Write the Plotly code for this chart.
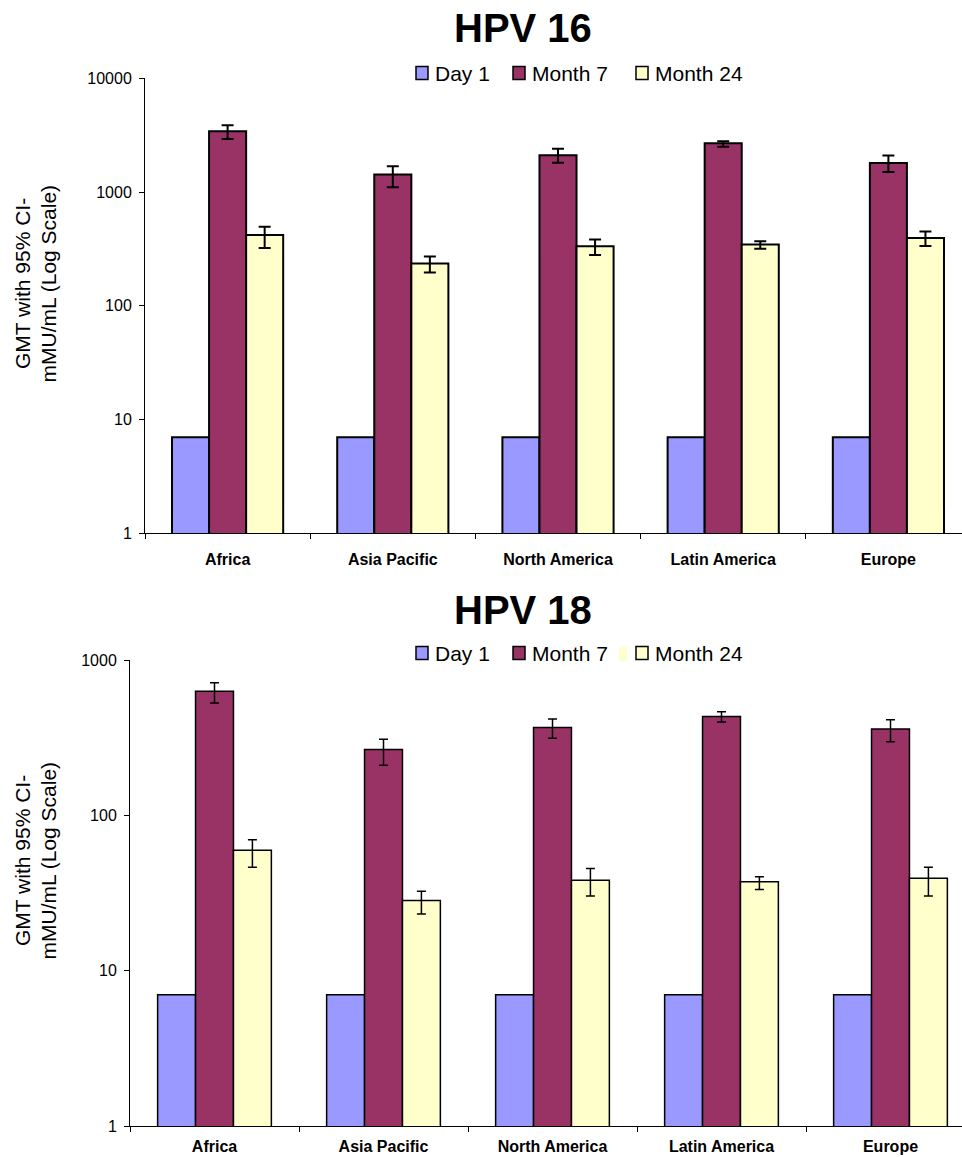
import plotly.graph_objects as go

regions = ["Africa", "Asia Pacific", "North America", "Latin America", "Europe"]
series_names = ["Day 1", "Month 7", "Month 24"]
y_ticks = [1, 10, 100, 1000, 10000]
y_title_lines = ["GMT with 95% CI-", "mMU/mL (Log Scale)"]

# HPV 16
hpv16_day1 = [7, 7, 7, 7, 7]
hpv16_m7 = [3430, 1430, 2110, 2690, 1800]
hpv16_m7_hi = [3870, 1690, 2400, 2800, 2100]
hpv16_m7_lo = [2930, 1100, 1810, 2500, 1500]
hpv16_m24 = [420, 235, 334, 345, 395]
hpv16_m24_hi = [496, 271, 382, 369, 449]
hpv16_m24_lo = [323, 196, 280, 318, 336]

# HPV 18
hpv18_day1 = [7, 7, 7, 7, 7]
hpv18_m7 = [629, 265, 367, 432, 360]
hpv18_m7_hi = [714, 309, 417, 465, 413]
hpv18_m7_lo = [529, 210, 314, 399, 298]
hpv18_m24 = [59.5, 28.3, 38.2, 37.3, 39.3]
hpv18_m24_hi = [69.7, 32.5, 45.4, 40.3, 46.3]
hpv18_m24_lo = [46.3, 23.2, 30.3, 33.3, 30.3]

colors = ["#9999FF", "#993366", "#FFFFCC"]
W, H = 962, 1157
FONT = "Liberation Sans, Arial, sans-serif"

fig = go.Figure()


def add_panel(day1, m7, m7hi, m7lo, m24, m24hi, m24lo, xa, ya, lw, ew, cw):
    vals = [day1, m7, m24]
    his = [None, m7hi, m24hi]
    los = [None, m7lo, m24lo]
    for i, name in enumerate(series_names):
        err = None
        if his[i] is not None:
            err = dict(type="data", symmetric=False,
                       array=[h - v for h, v in zip(his[i], vals[i])],
                       arrayminus=[v - l for v, l in zip(vals[i], los[i])],
                       color="black", thickness=ew, width=cw)
        fig.add_trace(go.Bar(
            x=regions, y=vals[i], name=name, xaxis=xa, yaxis=ya, showlegend=False,
            marker=dict(color=colors[i], line=dict(color="black", width=lw)),
            error_y=err, hoverinfo="x+y+name",
        ))


add_panel(hpv16_day1, hpv16_m7, hpv16_m7_hi, hpv16_m7_lo,
          hpv16_m24, hpv16_m24_hi, hpv16_m24_lo, "x", "y", 2, 2, 6)
add_panel(hpv18_day1, hpv18_m7, hpv18_m7_hi, hpv18_m7_lo,
          hpv18_m24, hpv18_m24_hi, hpv18_m24_lo, "x2", "y2", 1.5, 1.5, 4.5)


def px_y(p):
    return 1 - p / H


def px_x(p):
    return p / W


xcommon = dict(type="category", showline=True, linecolor="black", linewidth=1,
               ticks="outside", ticklen=5, tickcolor="black", tickson="boundaries",
               showgrid=False, zeroline=False, automargin=False,
               tickfont=dict(family=FONT, size=16, color="black", weight="bold"))
ycommon = dict(type="log", showline=True, linecolor="black", linewidth=1,
               ticks="outside", ticklen=5, tickcolor="black", showgrid=False,
               zeroline=False, automargin=False, tickvals=y_ticks,
               ticktext=[str(t) for t in y_ticks],
               tickfont=dict(family=FONT, size=16, color="black"), ticklabelstandoff=4)

fig.update_layout(
    width=W, height=H, autosize=False, margin=dict(l=0, r=0, t=0, b=0, pad=0),
    paper_bgcolor="white", plot_bgcolor="white",
    barmode="group", bargap=0.327, bargroupgap=0,
    font=dict(family=FONT, color="black"),
    xaxis=dict(xcommon, domain=[px_x(145), 1], anchor="y", ticklabelstandoff=11,
               range=[-0.5, 4.5 - (971 - 962) / 165.3]),
    yaxis=dict(ycommon, domain=[px_y(533.3), px_y(78.3)], anchor="x", range=[0, 4]),
    xaxis2=dict(xcommon, domain=[px_x(130), 1], anchor="y2", ticklabelstandoff=6,
                range=[-0.5, 4.5 - (975 - 962) / 169]),
    yaxis2=dict(ycommon, domain=[px_y(1126), px_y(660)], anchor="x2", range=[0, 3]),
    showlegend=False,
)

# titles
for txt, yc in (("<b>HPV 16</b>", 28), ("<b>HPV 18</b>", 610)):
    fig.add_annotation(text=txt, xref="paper", yref="paper", x=px_x(523), y=px_y(yc),
                       xanchor="center", yanchor="middle", showarrow=False,
                       font=dict(family=FONT, size=40, color="black"))

# y-axis titles (two rotated lines)
for yc in (284, 861):
    for line, xc in zip(y_title_lines, (22, 47.5)):
        fig.add_annotation(text=line, textangle=-90,
                           xref="paper", yref="paper", x=px_x(xc), y=px_y(yc),
                           xanchor="center", yanchor="middle", showarrow=False,
                           font=dict(family=FONT, size=21, color="black"))

# legends (drawn manually to match spacing)
legend_sq_x = [416, 513, 636]
for ly in (73, 653):
    for i, name in enumerate(series_names):
        x0 = legend_sq_x[i]
        fig.add_shape(type="rect", xref="paper", yref="paper",
                      x0=px_x(x0), x1=px_x(x0 + 12), y0=px_y(ly + 6.5), y1=px_y(ly - 6.5),
                      fillcolor=colors[i], line=dict(color="black", width=1.5))
        fig.add_annotation(text=name, xref="paper", yref="paper", x=px_x(x0 + 17),
                           y=px_y(ly), xanchor="left", yanchor="middle", showarrow=False,
                           font=dict(family=FONT, size=21, color="black"))
# small pale artifact in the lower legend
fig.add_shape(type="rect", xref="paper", yref="paper", x0=px_x(619), x1=px_x(627),
              y0=px_y(661), y1=px_y(647), fillcolor="#FFFFCC", line=dict(width=0))

post = (
    "document.documentElement.style.margin='0';"
    "document.documentElement.style.padding='0';"
    "document.body.style.margin='0';"
    "document.body.style.padding='0';"
    "document.body.style.overflow='hidden';"
    "var g=document.getElementById('{plot_id}');"
    "g.style.position='fixed';g.style.top='0px';g.style.left='0px';"
)
fig.write_html("out.html", post_script=post, config={"displayModeBar": False})
